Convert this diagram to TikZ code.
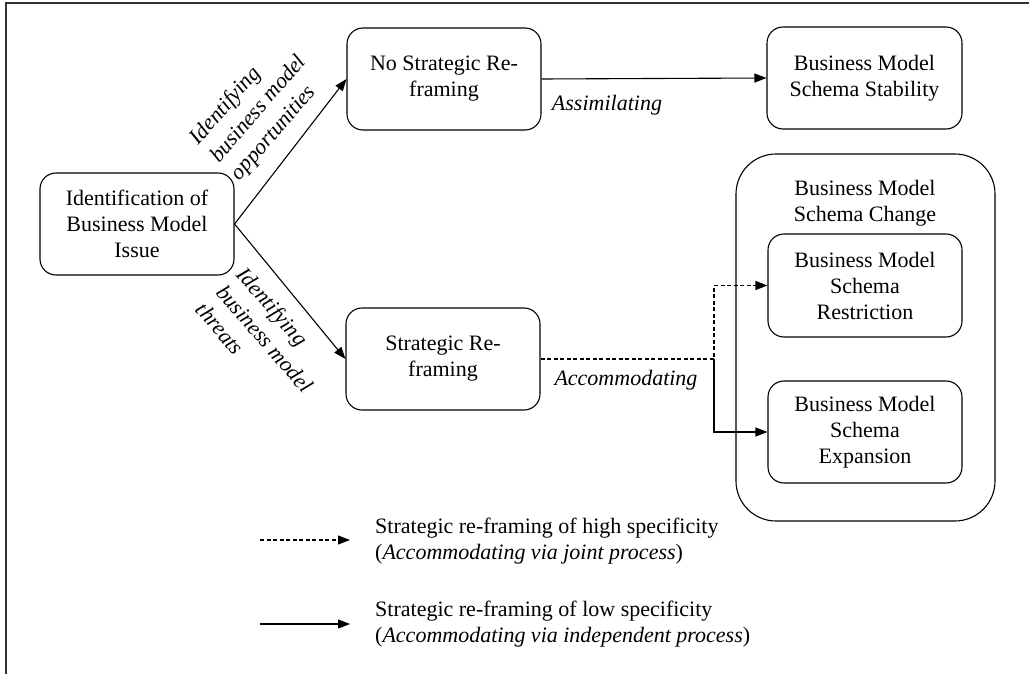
\documentclass[tikz,border=0pt]{standalone}
\usepackage{fontspec}
\setmainfont{Liberation Serif}
\usetikzlibrary{arrows.meta}
\begin{document}
\begin{tikzpicture}[x=1pt,y=-1pt,
  font=\fontsize{22}{26}\selectfont,
  box/.style={draw, line width=1.1pt, rounded corners=16pt, minimum width=194pt, minimum height=102pt, align=center, inner sep=0pt},
  arr/.style={-{Triangle[length=12pt,width=9pt]}, line width=1.1pt},
  dsh/.style={dash pattern=on 4pt off 2.5pt},
  lbl/.style={font=\fontsize{22}{26}\selectfont\itshape, inner sep=0pt},
  rlbl/.style={font=\fontsize{22}{27}\selectfont\itshape, inner sep=0pt, align=left, anchor=west}]
\useasboundingbox (0,0) rectangle (1029,674);
% frame
\draw[line width=2pt, black!80] (5.5,674) -- (5.5,3.5) -- (1029,3.5);
% nodes
\node[box] (A) at (137,224) {Identification of\\Business Model\\Issue};
\node[box] (B) at (444,79) {No Strategic Re-\\framing};
\node[box, minimum width=195pt] (C) at (864.5,78) {Business Model\\Schema Stability};
\node[box] (G) at (443,359) {Strategic Re-\\framing};
\node[draw, line width=1.1pt, rounded corners=40pt, minimum width=259pt, minimum height=367pt, inner sep=0pt] (D) at (865.5,337.5) {};
\node[align=center, inner sep=0pt] (Dl) at (865,203) {Business Model\\Schema Change};
\node[box, minimum height=103pt] (E) at (865,285.5) {Business Model\\Schema\\Restriction};
\node[box] (F) at (865,432) {Business Model\\Schema\\Expansion};
% connectors
\draw[arr] (A.east) -- (B.west);
\draw[arr] (A.east) -- (G.west);
\draw[arr] (B.east) -- (C.west);
\coordinate (J) at (714,359);
\draw[arr, dsh] (G.east) -- (J) |- (E.west);
\draw[arr] (J) |- (F.west);
% labels
\node[lbl] (asl) at (607,105) {Assimilating};
\node[lbl] (acl) at (626,380) {Accommodating};
\node[rlbl, rotate=49] (opp) at (215,160) {Identifying\\business model\\opportunities};
\node[rlbl, rotate=-49] (thr) at (221,288) {Identifying\\business model\\threats};
% legend
\coordinate (L1s) at (260,540);
\coordinate (L1e) at (350,540);
\coordinate (L2s) at (260,624);
\coordinate (L2e) at (350,624);
\draw[arr, dsh] (L1s) -- (L1e);
\draw[arr] (L2s) -- (L2e);
\node[anchor=west, align=left, inner sep=0pt] (leg1) at (375,541) {Strategic re-framing of high specificity\\(\textit{Accommodating via joint process})};
\node[anchor=west, align=left, inner sep=0pt] (leg2) at (375,624) {Strategic re-framing of low specificity\\(\textit{Accommodating via independent process})};
\end{tikzpicture}
\end{document}
